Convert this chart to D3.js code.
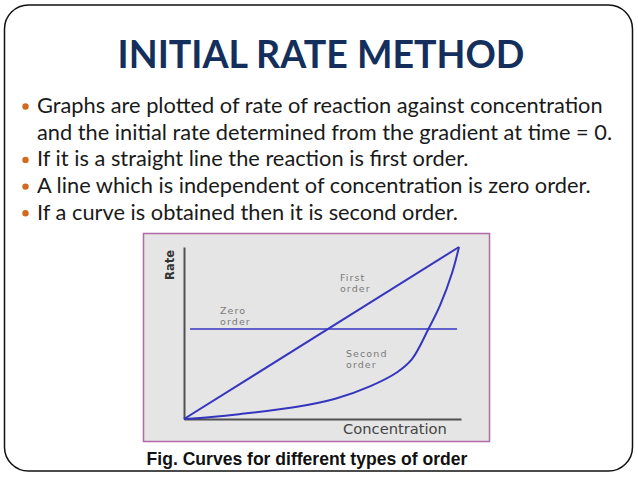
<!DOCTYPE html>
<html>
<head>
<meta charset="utf-8">
<script src="https://cdn.jsdelivr.net/npm/d3@7"></script>
<style>
  html, body { margin: 0; padding: 0; background: #fff; }
  svg { display: block; }
</style>
</head>
<body>
<svg id="slide" width="638" height="479"></svg>
<script>
// ---- data ----
const title = "INITIAL RATE METHOD";
const bulletLines = [
  { text: "Graphs are plotted of rate of reaction against concentration", bullet: true },
  { text: "and the initial rate determined from the gradient at time = 0.", bullet: false },
  { text: "If it is a straight line the reaction is first order.", bullet: true },
  { text: "A line which is independent of concentration is zero order.", bullet: true },
  { text: "If a curve is obtained then it is second order.", bullet: true }
];
const caption = "Fig. Curves for different types of order";
const xAxisLabel = "Concentration";
const yAxisLabel = "Rate";

// concentration (0..1) vs rate (0..1)
const firstOrder = [[0, 0], [1, 1]];
const zeroOrder = [[0.022, 0.523], [0.993, 0.523]];
const secondOrder = [
  [0, 0], [0.1, 0.012], [0.2, 0.028], [0.4, 0.068], [0.55, 0.118],
  [0.676, 0.19], [0.775, 0.272], [0.829, 0.348], [0.887, 0.517],
  [0.931, 0.66], [0.975, 0.85], [1, 1]
];
const curveLabels = [
  { lines: ["First", "order"], at: [0.567, 0.803] },
  { lines: ["Zero", "order"], at: [0.131, 0.611] },
  { lines: ["Second", "order"], at: [0.589, 0.361] }
];

// ---- drawing ----
const svg = d3.select("#slide");

// slide frame
svg.append("rect")
  .attr("x", 4.5).attr("y", 5).attr("width", 628).attr("height", 466)
  .attr("rx", 24).attr("ry", 24)
  .attr("fill", "#fff").attr("stroke", "#111").attr("stroke-width", 1.5);

function fitText(sel, targetWidth) {
  const w = sel.node().getComputedTextLength();
  const fs = parseFloat(sel.attr("font-size"));
  sel.attr("font-size", fs * targetWidth / w);
}

// title
const t = svg.append("text")
  .attr("x", 321).attr("y", 68)
  .attr("text-anchor", "middle")
  .attr("font-family", "Lato, 'Open Sans', sans-serif")
  .attr("font-weight", 700)
  .attr("font-size", 40)
  .attr("fill", "#142f5c")
  .text(title);
fitText(t, 407);

// bullets
const lineY0 = 113, lineStep = 26.7;
const bl = svg.append("g");
bulletLines.forEach((d, i) => {
  const y = lineY0 + i * lineStep;
  if (d.bullet) {
    bl.append("circle").attr("cx", 25.5).attr("cy", y - 6.5).attr("r", 3.2).attr("fill", "#d2691e");
  }
  const tx = bl.append("text")
    .attr("x", 37).attr("y", y)
    .attr("font-family", "Lato, 'Open Sans', sans-serif")
    .attr("font-size", 20)
    .attr("fill", "#1a1a1a")
    .text(d.text);
  if (i === 0) {
    const w = tx.node().getComputedTextLength();
    bl.attr("data-scale", 566 / w);
  }
});
const sc = +bl.attr("data-scale");
bl.selectAll("text").attr("font-size", 20 * sc);

// figure box
svg.append("rect")
  .attr("x", 143.5).attr("y", 233.5).attr("width", 346).attr("height", 208)
  .attr("fill", "#e5e5e5").attr("stroke", "#b06aa6").attr("stroke-width", 1.5);

const x = d3.scaleLinear().domain([0, 1]).range([184, 459]);
const y = d3.scaleLinear().domain([0, 1]).range([419, 247]);

// axes
const xAxis = d3.axisBottom(d3.scaleLinear().domain([0, 1]).range([184, 461])).ticks(0).tickSize(0).tickSizeOuter(0);
const yAxis = d3.axisLeft(y).ticks(0).tickSize(0).tickSizeOuter(0);
svg.append("g").attr("transform", `translate(0,${y(0)})`).call(xAxis)
  .select(".domain").attr("stroke", "#505050").attr("stroke-width", 2);
svg.append("g").attr("transform", `translate(${x(0)},0)`).call(yAxis)
  .select(".domain").attr("stroke", "#505050").attr("stroke-width", 2);

// lines
const lineGen = d3.line().x(d => x(d[0])).y(d => y(d[1]));
const curveGen = d3.line().x(d => x(d[0])).y(d => y(d[1])).curve(d3.curveCatmullRom.alpha(0.5));
const blue = "#3535c0";
svg.append("path").attr("d", lineGen(zeroOrder)).attr("fill", "none").attr("stroke", blue).attr("stroke-width", 1.6);
svg.append("path").attr("d", lineGen(firstOrder)).attr("fill", "none").attr("stroke", blue).attr("stroke-width", 2);
svg.append("path").attr("d", curveGen(secondOrder)).attr("fill", "none").attr("stroke", blue).attr("stroke-width", 2);

// curve labels
curveLabels.forEach(l => {
  const g = svg.append("text")
    .attr("x", x(l.at[0])).attr("y", y(l.at[1]))
    .attr("font-family", "'DejaVu Sans', sans-serif")
    .attr("font-size", 9.5)
    .attr("letter-spacing", 1.1)
    .attr("fill", "#7a7a7a");
  l.lines.forEach((s, k) => {
    g.append("tspan").attr("x", x(l.at[0])).attr("dy", k === 0 ? 0 : 11).text(s);
  });
});

// axis labels
const xl = svg.append("text")
  .attr("x", 343).attr("y", 434)
  .attr("font-family", "'DejaVu Sans', sans-serif")
  .attr("font-size", 12)
  .attr("fill", "#444")
  .text(xAxisLabel);
fitText(xl, 104);
svg.append("text")
  .attr("transform", "translate(174,265) rotate(-90)")
  .attr("text-anchor", "middle")
  .attr("font-family", "'DejaVu Sans', sans-serif")
  .attr("font-weight", 700)
  .attr("font-size", 11.5)
  .attr("fill", "#333")
  .text(yAxisLabel);

// caption
const cap = svg.append("text")
  .attr("x", 307).attr("y", 465)
  .attr("text-anchor", "middle")
  .attr("font-family", "'Liberation Sans Narrow', 'Arial Narrow', 'Liberation Sans', sans-serif")
  .attr("font-weight", 700)
  .attr("font-size", 16)
  .attr("fill", "#111")
  .text(caption);
fitText(cap, 321);
</script>
</body>
</html>
